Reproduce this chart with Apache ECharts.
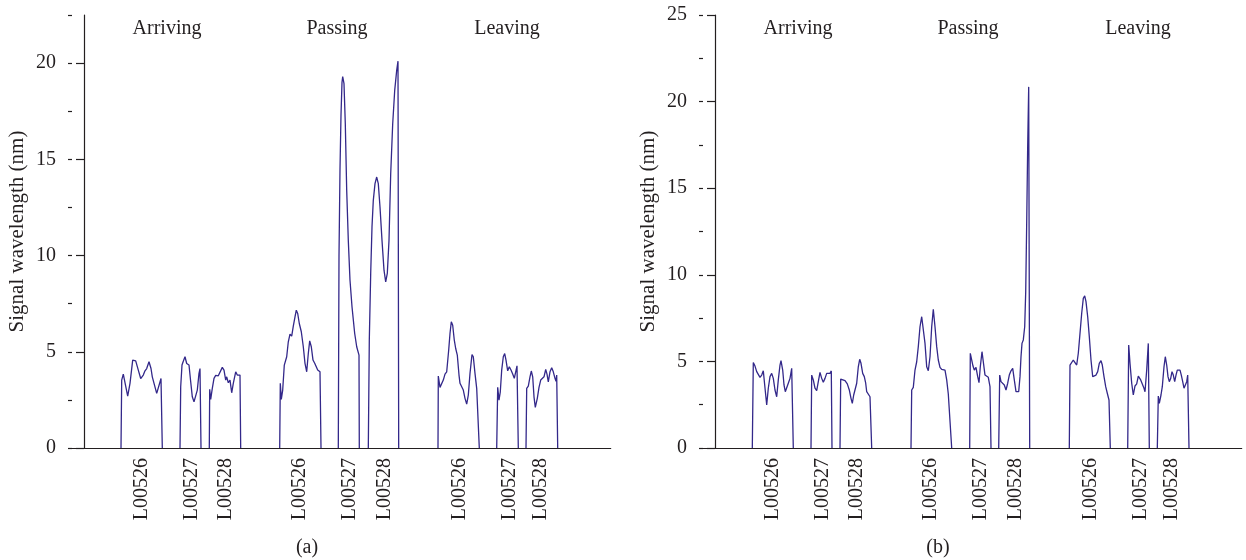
<!DOCTYPE html>
<html>
<head>
<meta charset="utf-8">
<script src="https://cdn.jsdelivr.net/npm/echarts@6/dist/echarts.min.js"></script>
<style>html,body{margin:0;padding:0;background:#fff}#c{width:1246px;height:560px}</style>
</head>
<body>
<div id="c"></div>
<script>
// x = sample position along the record, y = signal wavelength (nm)
const tickNames = ['L00526','L00527','L00528','L00526','L00527','L00528','L00526','L00527','L00528'];
const tickPos = [57.7,107.7,142,216,266,301,376,426,456.7];
const groupTitles = ['Arriving','Passing','Leaving'];
const leftTicks = [0,5,10,15,20];
const rightTicks = [0,5,10,15,20,25];

// Panel (a)
const aArr526 = [[37,0],[37.7,3.53],[39.3,3.84],[40.7,3.79],[43.7,2.70],[46,3.36],[48.7,4.57],[51.7,4.53],[54.3,4.05],[56.7,3.61],[59.3,3.79],[61,4.01],[62.7,4.13],[65,4.48],[67,4.13],[68.3,3.70],[70.3,3.65],[72.7,2.84],[74.7,2.92],[77,3.61],[78.3,0]];
const aArr527 = [[96,0],[96.7,3.18],[98,4.31],[99.3,4.51],[101,4.74],[102.7,4.39],[103.7,4.48],[105,4.31],[106.7,3.44],[108.3,2.66],[110,2.40],[111.7,2.40],[113.3,3.01],[115,3.88],[116,4.13],[117,0]];
const aArr528 = [[125.3,0],[125.7,3.05],[126.7,2.53],[128.3,3.10],[130,3.62],[131.7,3.77],[134.3,3.75],[136,3.79],[138.3,4.19],[140,4.05],[141.7,3.53],[142.7,3.70],[144.3,3.39],[146,3.53],[147.7,2.87],[149.3,3.36],[151.7,3.96],[153.3,3.79],[155,3.88],[156,3.79],[156.7,0]];
const aPas526 = [[195.7,0],[196.3,3.36],[197.3,2.53],[198.7,3.01],[200.3,4.31],[202.7,4.74],[204.3,5.52],[206,5.92],[207.7,5.81],[209.3,6.33],[211,6.81],[212.3,7.16],[213.7,6.99],[215.3,6.47],[217.3,6.04],[219.3,5.26],[221,4.40],[222.7,3.96],[224.3,4.91],[225.7,5.57],[227.3,5.26],[229,4.57],[230.7,4.40],[232.3,4.31],[233.7,4.05],[236,3.96],[237,0]];
const aPas527 = [[254.3,0],[255,10],[256,14.5],[257,17.3],[258,19.0],[258.7,19.3],[260,18.93],[261.3,16.85],[262.7,13.39],[264.3,10.79],[266,8.72],[268,7.34],[270.7,5.95],[272.7,5.26],[275,4.83],[275.3,0]];
const aPas528 = [[284.3,0],[285.3,5.6],[286.7,9.07],[288,11.49],[289.3,12.87],[291,13.74],[292.7,14.08],[294.3,13.74],[296,12.52],[298,10.79],[300,9.24],[301.7,8.63],[303.3,9.07],[305,10.79],[306.7,14.25],[308.7,16.85],[310.7,18.58],[312.7,19.62],[314,20.10],[314.7,0]];
const aLea526 = [[354,0],[354.3,3.74],[356,3.15],[357.3,3.05],[359.3,3.53],[361,3.84],[362.7,3.96],[364.7,5.09],[366,5.95],[367.3,6.56],[368.7,6.38],[370.3,5.60],[371.7,5.17],[373.3,4.83],[375,3.79],[376,3.36],[377.7,3.33],[379.3,3.01],[381,2.58],[382.7,2.28],[384.3,2.75],[386,3.88],[388,4.86],[389.3,4.74],[391,3.88],[392.7,3.10],[394.3,3.05],[395.3,0]];
const aLea527 = [[412.7,0],[413.7,3.15],[415,2.49],[416.3,2.92],[417.7,4.05],[419.3,4.74],[420.7,4.91],[422,4.57],[423.7,4.01],[425.3,4.22],[427,4.05],[428.7,3.84],[430.3,3.62],[431.7,3.53],[433,4.27],[434.3,0]];
const aLea528 = [[442,0],[442.7,3.10],[444.3,3.22],[446,3.70],[447.3,4.00],[448.7,3.70],[450,2.66],[451.3,2.11],[453.3,2.58],[455,3.15],[456.7,3.53],[458.3,3.44],[460,3.70],[461.7,4.08],[463,3.84],[464.3,3.44],[466,3.96],[467.7,4.17],[469.3,3.96],[471,3.62],[472,3.46],[472.7,3.79],[473.7,0]];

// Panel (b)
const bArr526 = [[37.3,0],[38.3,4.93],[40,4.73],[41.7,4.41],[43.3,4.31],[45,4.08],[46.7,4.21],[48.3,4.46],[49.7,3.64],[51.7,2.48],[53.3,3.45],[55,4.12],[56.7,4.31],[58.3,4.02],[60,3.35],[61.7,2.96],[63.3,3.93],[65,4.79],[66,5.04],[67.7,4.50],[69,3.64],[70.3,3.25],[71.7,3.35],[73.3,3.74],[75,4.02],[76.7,4.60],[77.7,4.60],[78.3,0]];
const bArr527 = [[96,0],[96.7,4.21],[98.3,3.93],[100,3.45],[101.7,3.31],[103.3,3.83],[105,4.37],[106.7,4.02],[108.3,3.79],[110,4.02],[111.7,4.31],[113.3,4.27],[115,4.31],[116.3,4.45],[117,0]];
const bArr528 = [[125,0],[125.7,3.98],[127.7,3.98],[130,3.89],[132.3,3.70],[134.3,3.35],[136,2.87],[137.3,2.58],[138.7,3.06],[140,3.16],[141.7,3.74],[143.3,4.69],[144.7,5.12],[146,4.89],[147.7,4.31],[149.3,4.12],[150.7,3.74],[151.7,3.25],[153.3,3.25],[155,2.96],[155.7,2.96],[156.7,0]];
const bPas526 = [[196,0],[196.7,3.35],[198.3,3.50],[200,4.50],[201.7,4.98],[203.3,5.85],[205,7.00],[206.7,7.58],[208.3,7.54],[210,6.04],[211.7,4.69],[213.3,4.46],[215,5.27],[216.7,7.00],[218.3,8.01],[220,7.00],[221.7,5.85],[223.3,5.08],[225,4.66],[226.7,4.54],[228.3,4.60],[230,4.50],[231.7,3.93],[233.3,3.12],[235,3.06],[235.7,3.06],[236.7,0]];
const bPas527 = [[254.7,0],[255.3,5.47],[256.7,5.37],[258,4.73],[259.3,4.50],[261,4.66],[262.7,4.12],[264,3.77],[265.3,4.69],[267,5.56],[268.3,4.98],[270,4.21],[271.7,4.15],[273.3,4.08],[275,3.54],[276,0]];
const bPas528 = [[283.7,0],[284.7,4.21],[286,3.83],[287.7,3.83],[289.3,3.64],[291,3.35],[292.7,3.74],[294.3,4.21],[296,4.46],[297.7,4.60],[299.3,3.93],[301,3.25],[302.3,3.16],[303.7,3.25],[305,4.12],[306,5.27],[307,6.04],[308.3,6.24],[309.7,7.00],[310.7,9.0],[311.7,13.0],[312.7,17.5],[313.7,20.85],[314.7,0]];
const bLea526 = [[354.3,0],[355,4.79],[356.7,4.69],[358.3,5.08],[360,5.18],[361.7,4.79],[363.3,5.47],[365,6.62],[366.7,7.78],[368.3,8.64],[369.7,8.78],[371,8.45],[372.7,7.58],[374.3,6.43],[376,5.08],[377.7,4.12],[379.3,4.15],[381,4.21],[382.7,4.41],[384.3,4.89],[386,5.04],[387.3,4.79],[389,4.12],[390.7,3.54],[392.3,3.16],[394,2.77],[394.7,2.70],[395.3,0]];
const bLea527 = [[412.7,0],[413.7,5.95],[415,4.89],[416.7,3.74],[418.3,3.06],[420,3.58],[421.7,3.70],[423.3,4.15],[424.3,4.06],[425.7,3.93],[427.3,3.83],[429,3.45],[430,3.25],[431.7,4.50],[433.3,6.04],[434.3,0]];
const bLea528 = [[442.3,0],[443.3,3.00],[444.3,2.58],[446,3.06],[447.3,3.54],[449,4.69],[450.3,5.27],[451.7,4.79],[453,4.12],[454.3,3.83],[455.7,4.02],[457,4.41],[458.3,4.21],[459.7,3.83],[461,4.21],[462.3,4.50],[463.7,4.46],[465,4.50],[466.3,4.21],[467.7,3.83],[469,3.45],[470.3,3.35],[471.7,3.83],[472.7,4.21],[473.3,4.21],[474,0]];

const panelA = [aArr526,aArr527,aArr528,aPas526,aPas527,aPas528,aLea526,aLea527,aLea528];
const panelB = [bArr526,bArr527,bArr528,bPas526,bPas527,bPas528,bLea526,bLea527,bLea528];

const FONT = 'Liberation Serif';
const INK = '#231f20';
const LINE = '#33288a';

function xAxisFor(gi){
  return {
    type:'value', gridIndex:gi, min:-12, max:526.7,
    axisLine:{show:true, onZero:false, lineStyle:{color:INK, width:1.2}},
    axisTick:{show:false}, splitLine:{show:false},
    axisLabel:{customValues:tickPos, rotate:90, margin:10, fontFamily:FONT, fontSize:20, color:INK,
      formatter:(v)=>{const i=tickPos.indexOf(v); return i>=0?tickNames[i]:'';}}
  };
}
function yMain(gi,max,ticks){
  return {
    type:'value', gridIndex:gi, min:0, max:max, interval:5,
    name:'Signal wavelength (nm)', nameLocation:'middle', nameGap:44, nameRotate:90,
    nameTextStyle:{fontFamily:FONT, fontSize:21, color:INK},
    axisLine:{show:true, lineStyle:{color:INK, width:1.2}},
    axisTick:{show:true, length:8, customValues:ticks, lineStyle:{color:INK, width:1.2}},
    axisLabel:{customValues:ticks, margin:16, fontFamily:FONT, fontSize:20, color:INK},
    splitLine:{show:false}
  };
}
function yMinor(gi,max){
  return {
    type:'value', gridIndex:gi, min:0, max:max, interval:2.5, position:'left',
    axisLine:{show:false}, axisLabel:{show:false}, splitLine:{show:false},
    axisTick:{show:true, length:4, lineStyle:{color:INK, width:1.2}}
  };
}
const series = [];
panelA.forEach(d=>series.push({type:'line', xAxisIndex:0, yAxisIndex:0, data:d, showSymbol:false, symbol:'none', smooth:false, lineStyle:{color:LINE, width:1.3}, silent:true}));
panelB.forEach(d=>series.push({type:'line', xAxisIndex:1, yAxisIndex:2, data:d, showSymbol:false, symbol:'none', smooth:false, lineStyle:{color:LINE, width:1.3}, silent:true}));

const titleXA = [167,337,507];
const graphics = [];
[0,631].forEach((off,p)=>{
  groupTitles.forEach((t,i)=>graphics.push({type:'text', x:titleXA[i]+off, y:29, style:{text:t, fontFamily:FONT, fontSize:20, fill:INK, textAlign:'center', textVerticalAlign:'middle'}}));
  graphics.push({type:'text', x:307+off, y:548, style:{text:p?'(b)':'(a)', fontFamily:FONT, fontSize:20, fill:INK, textAlign:'center', textVerticalAlign:'middle'}});
});

const chart = echarts.init(document.getElementById('c'), null, {renderer:'canvas'});
chart.setOption({
  animation:false,
  backgroundColor:'#fff',
  grid:[
    {left:72, top:15, width:538.7, height:433, outerBoundsMode:'none', containLabel:false},
    {left:703, top:15, width:538.7, height:433, outerBoundsMode:'none', containLabel:false}
  ],
  xAxis:[xAxisFor(0), xAxisFor(1)],
  yAxis:[yMain(0,22.5,leftTicks), yMinor(0,22.5), yMain(1,25,rightTicks), yMinor(1,25)],
  series:series,
  graphic:graphics
});
</script>
</body>
</html>
